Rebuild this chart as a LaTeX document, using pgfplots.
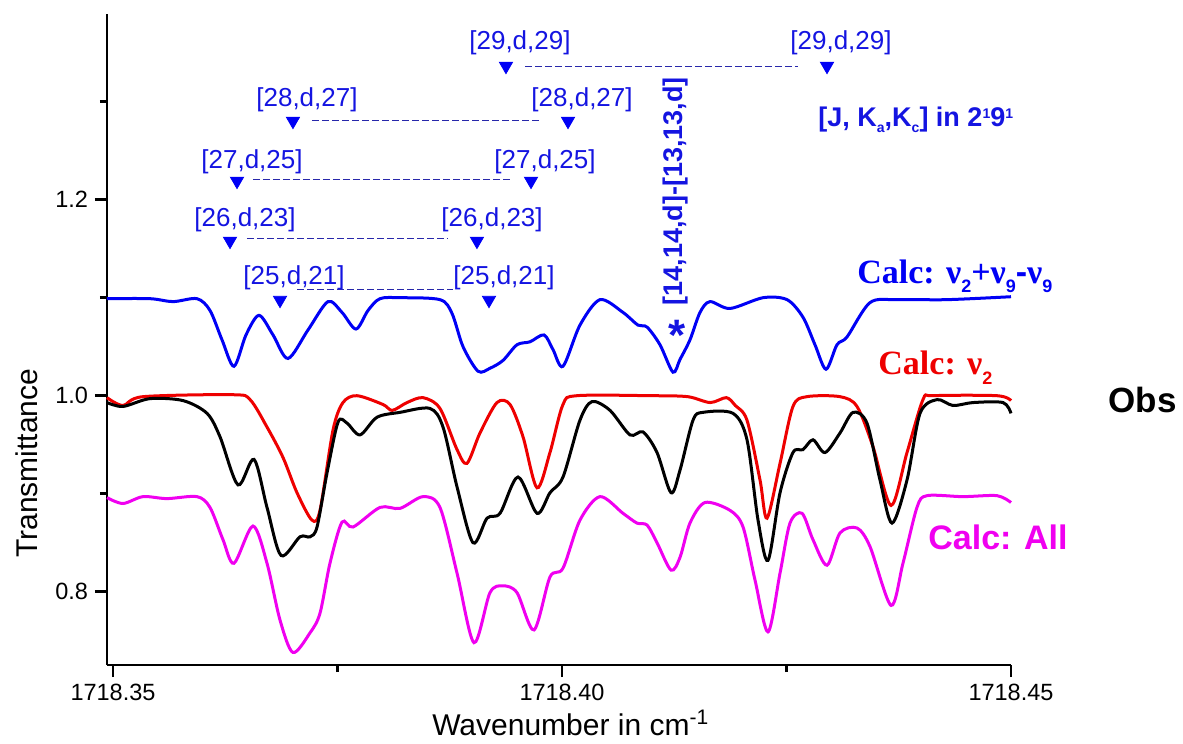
\documentclass[border=0pt]{standalone}
\usepackage{pgfplots}
\pgfplotsset{compat=1.18}
\usepackage{fontspec}
\setmainfont{Liberation Sans}
\newfontfamily\timesfont{Liberation Serif}
\definecolor{cblue}{RGB}{0,0,245}
\definecolor{lblue}{RGB}{20,20,225}
\definecolor{cred}{RGB}{238,0,0}
\definecolor{cmag}{RGB}{240,0,240}
\definecolor{dashc}{RGB}{40,40,170}
\begin{document}
\begin{tikzpicture}
\path[use as bounding box] (-53.5pt,-39.5pt) rectangle (538pt,332.5pt);
\begin{axis}[
  at={(0,0)}, anchor=south west,
  scale only axis, width=452pt, height=325.5pt,
  xmin=-0.668, xmax=100, ymin=0.7252, ymax=1.3895,
  axis x line=bottom, axis y line=left,
  axis line style={-, line width=1.4pt},
  tick align=outside,
  major tick length=6pt, minor tick length=3.5pt,
  every tick/.style={black, line width=1.4pt},
  xtick={0,50,100}, xticklabels={1718.35,1718.40,1718.45},
  minor xtick={25,75},
  ytick={0.8,1.0,1.2}, yticklabels={0.8,1.0,1.2},
  minor ytick={0.9,1.1,1.3},
  tick label style={font=\fontsize{11.75}{14}\selectfont},
  xlabel={Wavenumber in cm\textsuperscript{-1}},
  ylabel={Transmittance},
  label style={font=\fontsize{15}{18}\selectfont},
  xlabel style={at={(axis description cs:0.513,-0.108)}, anchor=base},
  ylabel style={at={(axis description cs:-0.0885,0.310)}, anchor=center},
  clip=false,
]
% Calc: nu2+nu9-nu9 (blue)
\addplot[cblue, line width=1.5pt, smooth, tension=0.5] coordinates {
(-0.67,1.099)(4.12,1.099)(6.68,1.096)(9.35,1.099)(10.80,1.087)(12.14,1.057)(13.47,1.030)(14.81,1.062)(16.26,1.082)(17.82,1.062)(19.49,1.038)(21.71,1.067)(23.94,1.096)(25.50,1.085)(27.06,1.068)(28.40,1.087)(29.73,1.099)(31.96,1.100)(36.41,1.098)(37.75,1.084)(38.98,1.050)(40.65,1.025)(41.98,1.028)(43.43,1.036)(44.99,1.052)(46.44,1.055)(48.00,1.062)(49.00,1.047)(50.11,1.030)(52.00,1.072)(54.23,1.098)(56.79,1.085)(58.46,1.072)(59.47,1.070)(60.91,1.052)(62.36,1.024)(63.14,1.037)(64.25,1.057)(65.37,1.085)(66.48,1.096)(68.71,1.089)(72.38,1.100)(75.06,1.098)(76.84,1.080)(78.17,1.052)(79.40,1.027)(80.62,1.052)(81.74,1.060)(84.30,1.095)(87.31,1.098)(92.87,1.098)(100,1.101)
};
% Calc: nu2 (red)
\addplot[cred, line width=1.5pt, smooth, tension=0.5] coordinates {
(-0.67,0.998)(1.11,0.990)(3.34,0.999)(13.36,1.001)(15.26,0.996)(17.15,0.968)(18.93,0.937)(20.49,0.901)(22.16,0.873)(23.05,0.883)(24.50,0.965)(25.61,0.993)(27.17,1.000)(30.07,0.991)(31.10,0.985)(32.74,0.993)(34.52,0.998)(36.41,0.987)(38.31,0.945)(39.42,0.931)(40.87,0.962)(42.76,0.993)(44.21,0.991)(45.66,0.958)(47.22,0.906)(48.66,0.942)(50.11,0.991)(51.67,1.000)(60.0,1.000)(64.0,0.999)(66.5,0.993)(68.3,0.998)(69.3,0.990)(70.60,0.975)(72.05,0.914)(72.83,0.875)(74.28,0.931)(75.72,0.989)(77.28,0.999)(80.96,0.999)(82.85,0.989)(84.63,0.948)(86.64,0.888)(88.42,0.942)(90.20,0.996)(91.31,1.000)(98.44,1.000)(100,0.995)
};
% Obs (black)
\addplot[black, line width=1.5pt, smooth, tension=0.5] coordinates {
(-0.67,0.993)(1.11,0.989)(4.12,0.997)(7.80,0.995)(10.47,0.982)(11.92,0.958)(13.92,0.909)(15.70,0.935)(17.15,0.886)(18.71,0.837)(20.82,0.856)(21.94,0.856)(22.72,0.866)(23.83,0.921)(25.06,0.973)(26.06,0.972)(27.51,0.960)(29.40,0.978)(31.96,0.983)(35.30,0.987)(36.75,0.968)(38.31,0.907)(40.09,0.850)(41.65,0.875)(43.10,0.880)(45.10,0.917)(47.22,0.880)(48.66,0.901)(50.11,0.917)(52.00,0.975)(53.34,0.994)(55.35,0.985)(57.57,0.960)(59.02,0.963)(60.58,0.942)(62.14,0.901)(63.14,0.924)(64.59,0.975)(65.70,0.983)(69.04,0.982)(70.60,0.955)(71.83,0.873)(72.94,0.832)(74.28,0.901)(75.72,0.942)(76.84,0.945)(77.95,0.955)(79.29,0.942)(80.96,0.962)(82.41,0.983)(83.96,0.972)(85.41,0.914)(86.75,0.870)(88.42,0.914)(89.87,0.982)(91.76,0.996)(93.54,0.990)(95.77,0.993)(99.11,0.993)(100,0.982)
};
% Calc: All (magenta)
\addplot[cmag, line width=1.5pt, smooth, tension=0.5] coordinates {
(-0.67,0.896)(1.11,0.890)(3.34,0.897)(6.01,0.895)(9.35,0.897)(10.80,0.886)(12.25,0.853)(13.47,0.829)(15.59,0.867)(17.15,0.829)(18.60,0.771)(20.04,0.738)(21.94,0.758)(23.05,0.778)(24.16,0.829)(25.50,0.871)(26.73,0.866)(29.73,0.886)(31.96,0.885)(34.52,0.897)(36.41,0.886)(38.31,0.819)(40.20,0.748)(41.98,0.799)(43.43,0.806)(44.99,0.799)(46.88,0.761)(48.66,0.815)(50.11,0.824)(52.00,0.873)(54.23,0.897)(56.79,0.880)(58.35,0.870)(59.47,0.868)(60.58,0.850)(62.14,0.822)(63.14,0.835)(64.25,0.870)(65.92,0.891)(68.71,0.883)(70.16,0.866)(71.49,0.812)(72.94,0.759)(74.28,0.819)(75.39,0.870)(76.73,0.880)(77.95,0.853)(79.51,0.827)(80.96,0.860)(82.85,0.865)(84.30,0.846)(86.64,0.786)(87.97,0.829)(89.53,0.886)(90.65,0.898)(94.65,0.897)(98.44,0.898)(100,0.891)
};
% assignment markers
\addplot[only marks, mark=triangle*, mark size=3.8pt, mark options={rotate=180, fill=cblue, draw=cblue}] coordinates {
(43.76,1.3364)(79.51,1.3364)(20.04,1.2803)(50.67,1.2803)(13.81,1.2191)(46.55,1.2191)(13.03,1.1579)(40.53,1.1579)(18.60,1.0976)(41.87,1.0976)
};
% dashed connectors
\addplot[dashc, line width=0.5pt, dash pattern=on 3.5pt off 1.5pt] coordinates {(45.88,1.3364)(76.28,1.3364)};
\addplot[dashc, line width=0.5pt, dash pattern=on 3.5pt off 1.5pt] coordinates {(22.16,1.2813)(47.77,1.2813)};
\addplot[dashc, line width=0.5pt, dash pattern=on 3.5pt off 1.5pt] coordinates {(15.59,1.2211)(44.21,1.2211)};
\addplot[dashc, line width=0.5pt, dash pattern=on 3.5pt off 1.5pt] coordinates {(14.92,1.1609)(37.31,1.1609)};
\addplot[dashc, line width=0.5pt, dash pattern=on 3.5pt off 1.5pt] coordinates {(20.49,1.1079)(37.86,1.1079)};
% labels
\begin{scope}[every node/.style={font=\fontsize{13}{15}\selectfont, text=lblue, inner sep=0pt}]
\node at (axis cs:45.32,1.3599) {[29,d,29]};
\node at (axis cs:81.07,1.3599) {[29,d,29]};
\node at (axis cs:21.60,1.3017) {[28,d,27]};
\node at (axis cs:52.23,1.3017) {[28,d,27]};
\node at (axis cs:15.48,1.2385) {[27,d,25]};
\node at (axis cs:48.11,1.2385) {[27,d,25]};
\node at (axis cs:14.70,1.1793) {[26,d,23]};
\node at (axis cs:42.21,1.1793) {[26,d,23]};
\node at (axis cs:20.16,1.1201) {[25,d,21]};
\node at (axis cs:43.54,1.1201) {[25,d,21]};
\end{scope}
\node[anchor=west, inner sep=0pt, text=lblue, font=\fontsize{13.5}{15}\selectfont\bfseries] at (axis cs:78.51,1.2813) {[J, K\raisebox{-0.45ex}{\scriptsize a},K\raisebox{-0.45ex}{\scriptsize c}] in 2\raisebox{0.55ex}{\scriptsize 1}9\raisebox{0.55ex}{\scriptsize 1}};
\node[rotate=90, inner sep=0pt, text=lblue, font=\fontsize{13.5}{15}\selectfont\bfseries] at (axis cs:62.69,1.2087) {[14,14,d]-[13,13,d]};
\node[inner sep=0pt, text=lblue, font=\fontsize{22}{24}\selectfont\bfseries] at (axis cs:62.81,1.062) {*};
\node[anchor=base west, inner sep=0pt, text=cblue, font=\fontsize{17}{19}\selectfont\bfseries] at (axis cs:82.85,1.1149) {{\timesfont Calc: ν}\raisebox{-0.55ex}{\small 2}{\timesfont +ν}\raisebox{-0.55ex}{\small 9}-{\timesfont ν}\raisebox{-0.55ex}{\small 9}};
\node[anchor=base west, inner sep=0pt, text=cred, font=\fontsize{17}{19}\selectfont\bfseries] at (axis cs:85.19,1.0212) {{\timesfont Calc: ν}\raisebox{-0.55ex}{\small 2}};
\node[anchor=west, inner sep=0pt, text=black, font=\fontsize{17.5}{19}\selectfont\bfseries] at (axis cs:110.8,0.9956) {Obs};
\node[anchor=west, inner sep=0pt, text=cmag, font=\fontsize{17}{19}\selectfont\bfseries] at (axis cs:90.76,0.8557) {Calc: All};
\end{axis}
\end{tikzpicture}
\end{document}
